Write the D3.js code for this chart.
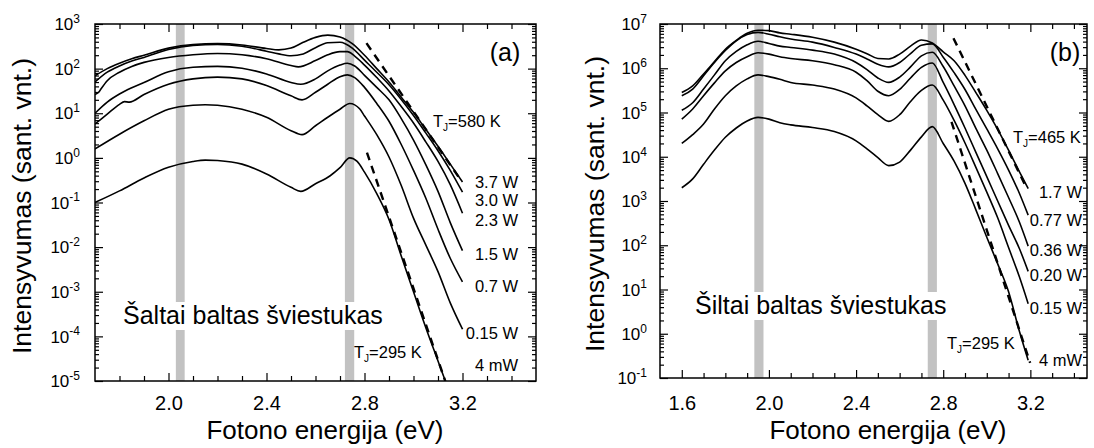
<!DOCTYPE html>
<html><head><meta charset="utf-8">
<script src="https://cdn.jsdelivr.net/npm/d3@7"></script>
<style>
body{margin:0;background:#fff;}
svg{display:block;font-family:"Liberation Sans",Arial,sans-serif;}
</style></head><body>
<svg id="chart" width="1094" height="448"></svg>
<script>
// ================= DATA (photon energy in eV, log10 of intensity in a.u.) =================
// ---- Panel (a): cold white LED ----
const a_E_37 = [1.70,1.75,1.80,1.85,1.90,2.00,2.10,2.20,2.30,2.40,2.45,2.50,2.55,2.60,2.65,2.70,2.75,2.80,2.85,2.90,2.95,3.00,3.05,3.10,3.15,3.20];
const a_L_37 = [1.84,2.00,2.12,2.22,2.30,2.46,2.54,2.56,2.53,2.45,2.42,2.46,2.59,2.70,2.75,2.71,2.56,2.30,2.00,1.70,1.36,1.02,0.64,0.26,-0.14,-0.54];
const a_E_30 = [1.70,1.75,1.80,1.85,1.90,2.00,2.10,2.20,2.30,2.40,2.45,2.50,2.55,2.60,2.65,2.70,2.75,2.80,2.85,2.90,2.95,3.00,3.05,3.10,3.15,3.20];
const a_L_30 = [1.70,1.92,2.06,2.17,2.25,2.43,2.52,2.54,2.50,2.39,2.33,2.29,2.33,2.47,2.58,2.59,2.46,2.19,1.92,1.64,1.31,0.95,0.56,0.16,-0.28,-0.77];
const a_E_23 = [1.70,1.715,1.725,1.75,1.80,1.85,1.90,2.00,2.10,2.20,2.30,2.40,2.50,2.53,2.60,2.65,2.70,2.73,2.76,2.80,2.85,2.90,2.95,3.00,3.05,3.10,3.15,3.20];
const a_L_23 = [1.42,1.47,1.55,1.73,1.92,2.05,2.14,2.25,2.31,2.34,2.31,2.22,2.07,2.04,2.18,2.31,2.38,2.38,2.28,2.08,1.80,1.50,1.15,0.78,0.36,-0.08,-0.60,-1.24];
const a_E_15 = [1.70,1.75,1.80,1.85,1.90,2.00,2.10,2.20,2.30,2.40,2.50,2.54,2.60,2.65,2.70,2.73,2.76,2.80,2.85,2.90,2.95,3.00,3.05,3.10,3.15,3.20];
const a_L_15 = [1.00,1.25,1.43,1.57,1.69,1.93,2.03,2.05,2.01,1.88,1.69,1.65,1.77,1.95,2.08,2.12,2.06,1.85,1.58,1.30,0.88,0.40,-0.15,-0.75,-1.45,-2.08];
const a_E_07 = [1.70,1.75,1.80,1.82,1.84,1.90,2.00,2.10,2.20,2.30,2.40,2.50,2.545,2.60,2.65,2.70,2.73,2.76,2.80,2.85,2.90,2.95,3.00,3.05,3.10,3.15,3.20];
const a_L_07 = [0.76,0.98,1.20,1.26,1.25,1.42,1.65,1.77,1.81,1.77,1.62,1.39,1.30,1.47,1.65,1.82,1.86,1.80,1.58,1.22,0.82,0.30,-0.28,-0.90,-1.60,-2.25,-2.78];
const a_E_015 = [1.70,1.80,1.90,2.00,2.10,2.15,2.20,2.30,2.40,2.50,2.545,2.60,2.65,2.70,2.74,2.78,2.80,2.85,2.90,2.95,3.00,3.05,3.10,3.15,3.20];
const a_L_015 = [0.20,0.53,0.83,1.09,1.18,1.19,1.18,1.09,0.91,0.61,0.52,0.72,0.91,1.09,1.22,1.10,0.94,0.52,0.02,-0.62,-1.35,-1.95,-2.55,-3.25,-3.84];
const a_E_4m = [1.70,1.80,1.90,2.00,2.10,2.15,2.20,2.30,2.40,2.50,2.54,2.60,2.66,2.70,2.74,2.77,2.80,2.85,2.90,2.95,3.00,3.05,3.10,3.15];
const a_L_4m = [-1.00,-0.74,-0.45,-0.21,-0.08,-0.05,-0.06,-0.14,-0.36,-0.66,-0.75,-0.58,-0.40,-0.22,0.00,-0.08,-0.32,-0.80,-1.38,-2.20,-3.00,-3.80,-4.55,-5.30];
const a_fitE_580 = [2.808, 3.197], a_fitL_580 = [2.57, -0.53];
const a_fitE_295 = [2.81, 3.145],  a_fitL_295 = [0.12, -5.25];
const a_bands = [[2.030, 2.066], [2.720, 2.758]];
const a_powers = ["3.7 W","3.0 W","2.3 W","1.5 W","0.7 W","0.15 W","4 mW"];
const a_xMajor = [2.0, 2.4, 2.8, 3.2];
const a_yExp = [-5,-4,-3,-2,-1,0,1,2,3];

// ---- Panel (b): warm white LED ----
const b_E = [1.60,1.65,1.70,1.75,1.80,1.85,1.90,1.95,2.00,2.05,2.10,2.20,2.30,2.40,2.45,2.50,2.55,2.60,2.65,2.70,2.75,2.80,2.85,2.90,2.95,3.00,3.05,3.10,3.15,3.19];
const b_L_17  = [5.45,5.60,5.87,6.15,6.43,6.63,6.79,6.86,6.85,6.80,6.77,6.70,6.59,6.43,6.33,6.22,6.21,6.32,6.50,6.64,6.57,6.37,6.17,5.84,5.45,5.05,4.62,4.15,3.66,3.28];
const b_L_077 = [5.38,5.53,5.83,6.13,6.40,6.62,6.76,6.81,6.77,6.71,6.66,6.59,6.47,6.32,6.21,6.09,6.03,6.13,6.33,6.52,6.55,6.25,5.90,5.52,5.07,4.63,4.18,3.70,3.17,2.68];
const b_L_036 = [5.05,5.22,5.53,5.85,6.17,6.38,6.53,6.61,6.56,6.50,6.47,6.41,6.32,6.13,5.97,5.78,5.68,5.80,6.03,6.28,6.36,6.04,5.60,5.15,4.64,4.15,3.62,3.08,2.52,1.98];
const b_L_020 = [4.85,5.08,5.38,5.67,5.94,6.13,6.26,6.35,6.32,6.26,6.22,6.17,6.08,5.91,5.72,5.48,5.38,5.52,5.78,6.02,6.12,5.68,5.18,4.65,4.10,3.55,3.00,2.45,1.92,1.41];
const b_L_015 = [4.30,4.50,4.74,5.08,5.38,5.60,5.76,5.85,5.81,5.75,5.68,5.62,5.53,5.33,5.15,4.95,4.80,4.95,5.25,5.50,5.62,5.28,4.82,4.31,3.76,3.20,2.62,1.95,1.28,0.68];
const b_L_4m  = [3.30,3.50,3.83,4.15,4.44,4.65,4.81,4.89,4.85,4.77,4.72,4.66,4.57,4.36,4.18,3.98,3.80,3.88,4.15,4.45,4.68,4.30,3.90,3.40,2.80,2.18,1.58,0.95,0.05,-0.60];
const b_fitE_465 = [2.847, 3.184], b_fitL_465 = [6.68, 3.28];
const b_fitE_295 = [2.838, 3.199], b_fitL_295 = [4.79, -0.66];
const b_bands = [[1.933, 1.975], [2.729, 2.771]];
const b_powers = ["1.7 W","0.77 W","0.36 W","0.20 W","0.15 W","4 mW"];
const b_xMajor = [1.6, 2.0, 2.4, 2.8, 3.2];
const b_yExp = [-1,0,1,2,3,4,5,6,7];

// ================= LAYOUT =================
const svg = d3.select("#chart");
const FONT = '"Liberation Sans", Arial, sans-serif';

const panels = [
  {
    id: "a", left: 95, right: 536, top: 24, bottom: 381,
    xDomain: [1.7, 3.5], yExp: a_yExp, xMajor: a_xMajor,
    series: [[a_E_37,a_L_37],[a_E_30,a_L_30],[a_E_23,a_L_23],[a_E_15,a_L_15],[a_E_07,a_L_07],[a_E_015,a_L_015],[a_E_4m,a_L_4m]],
    fits: [[a_fitE_580,a_fitL_580],[a_fitE_295,a_fitL_295]],
    bands: a_bands,
    powers: a_powers, powerX: 518, powerY: [187.5,206,225.5,260,292,339,371],
    tjHot: {text:"=580 K", x:433, y:127}, tjCold: {text:"=295 K", x:354, y:358},
    tag: {text:"(a)", x:505, y:61},
    big: {text:"Šaltai baltas šviestukas", x:123, y:324},
    yTitleX: 31, yTitleY: 206, xTitleX: 325, yLabelPad: 15, xLabelBase: 410
  },
  {
    id: "b", left: 660, right: 1087, top: 24, bottom: 378,
    xDomain: [1.5, 3.46], yExp: b_yExp, xMajor: b_xMajor,
    series: [b_L_17,b_L_077,b_L_036,b_L_020,b_L_015,b_L_4m].map(L => [b_E, L]),
    fits: [[b_fitE_465,b_fitL_465],[b_fitE_295,b_fitL_295]],
    bands: b_bands,
    powers: b_powers, powerX: 1082, powerY: [198,226,256,281,313.5,366],
    tjHot: {text:"=465 K", x:1013, y:142.5}, tjCold: {text:"=295 K", x:947, y:348.5},
    tag: {text:"(b)", x:1065, y:61},
    big: {text:"Šiltai baltas šviestukas", x:695, y:314},
    yTitleX: 604, yTitleY: 204, xTitleX: 888, yLabelPad: 13, xLabelBase: 410
  }
];

panels.forEach(drawPanel);

function drawPanel(cfg) {
  const g = svg.append("g");
  const x = d3.scaleLinear().domain(cfg.xDomain).range([cfg.left, cfg.right]);
  const yLo = Math.pow(10, cfg.yExp[0]), yHi = Math.pow(10, cfg.yExp[cfg.yExp.length-1]);
  const y = d3.scaleLog().domain([yLo, yHi]).range([cfg.bottom, cfg.top]);
  const clipId = "clip-" + cfg.id;
  svg.append("clipPath").attr("id", clipId).append("rect")
    .attr("x", cfg.left).attr("y", cfg.top)
    .attr("width", cfg.right - cfg.left).attr("height", cfg.bottom - cfg.top);

  // grey bands
  cfg.bands.forEach(b => {
    g.append("rect").attr("x", x(b[0])).attr("width", x(b[1]) - x(b[0]))
      .attr("y", cfg.top).attr("height", cfg.bottom - cfg.top).attr("fill", "#c2c2c2");
  });

  // big label with white background
  const bigG = g.append("g");
  const bigT = bigG.append("text").attr("x", cfg.big.x).attr("y", cfg.big.y)
    .attr("font-size", 25).attr("fill", "#000").text(cfg.big.text);
  const bb = bigT.node().getBBox();
  bigG.insert("rect", "text").attr("x", bb.x - 2).attr("y", bb.y + 1)
    .attr("width", bb.width + 4).attr("height", bb.height).attr("fill", "#fff");

  // curves
  const line = d3.line()
    .x(d => x(d[0])).y(d => y(Math.pow(10, d[1])))
    .curve(d3.curveMonotoneX);
  const plot = g.append("g").attr("clip-path", `url(#${clipId})`);
  cfg.series.forEach(s => {
    plot.append("path").datum(d3.zip(s[0], s[1])).attr("d", line)
      .attr("fill", "none").attr("stroke", "#000").attr("stroke-width", 1.6)
      .attr("stroke-linejoin", "round");
  });
  cfg.fits.forEach(f => {
    plot.append("path").datum(d3.zip(f[0], f[1]))
      .attr("d", d3.line().x(d => x(d[0])).y(d => y(Math.pow(10, d[1]))))
      .attr("fill", "none").attr("stroke", "#000").attr("stroke-width", 2.4)
      .attr("stroke-dasharray", "8,6");
  });

  // ticks
  const xMinor = d3.range(Math.round(cfg.xDomain[0]*10)+1, Math.round(cfg.xDomain[1]*10))
    .map(v => v/10).filter(v => !cfg.xMajor.some(m => Math.abs(m - v) < 1e-6));
  const yMajor = cfg.yExp.map(e => Math.pow(10, e));
  const yMinor = [];
  cfg.yExp.slice(0, -1).forEach(e => { for (let m = 2; m <= 9; m++) yMinor.push(m * Math.pow(10, e)); });

  const styleAxis = sel => {
    sel.select(".domain").remove();
    sel.selectAll(".tick line").attr("stroke", "#000").attr("stroke-width", 1.2);
    sel.selectAll(".tick text").attr("fill", "#000").attr("font-family", FONT);
  };
  const xfs = 20;
  const padX = cfg.xLabelBase - cfg.bottom - 0.71 * xfs;
  g.append("g").attr("transform", `translate(0,${cfg.bottom})`)
    .call(d3.axisBottom(x).tickValues(xMinor).tickSize(-5).tickFormat("")).call(styleAxis);
  g.append("g").attr("transform", `translate(0,${cfg.bottom})`)
    .call(d3.axisBottom(x).tickValues(cfg.xMajor).tickSize(-8).tickPadding(padX).tickFormat(d3.format(".1f")))
    .call(styleAxis).selectAll(".tick text").attr("font-size", xfs);
  g.append("g").attr("transform", `translate(0,${cfg.top})`)
    .call(d3.axisTop(x).tickValues(xMinor).tickSize(-5).tickFormat("")).call(styleAxis);
  g.append("g").attr("transform", `translate(0,${cfg.top})`)
    .call(d3.axisTop(x).tickValues(cfg.xMajor).tickSize(-8).tickFormat("")).call(styleAxis);

  g.append("g").attr("transform", `translate(${cfg.left},0)`)
    .call(d3.axisLeft(y).tickValues(yMinor).tickSize(-4).tickFormat("")).call(styleAxis);
  const yl = g.append("g").attr("transform", `translate(${cfg.left},0)`)
    .call(d3.axisLeft(y).tickValues(yMajor).tickSize(-8).tickPadding(cfg.yLabelPad).tickFormat(""))
    .call(styleAxis);
  yl.selectAll(".tick text").attr("font-size", 17).attr("dy", "0.33em")
    .each(function(d) {
      const t = d3.select(this);
      t.append("tspan").text("10");
      t.append("tspan").attr("dy", "-0.6em").attr("font-size", 12)
        .text(String(Math.round(Math.log10(d))));
    });
  g.append("g").attr("transform", `translate(${cfg.right},0)`)
    .call(d3.axisRight(y).tickValues(yMinor).tickSize(-4).tickFormat("")).call(styleAxis);
  g.append("g").attr("transform", `translate(${cfg.right},0)`)
    .call(d3.axisRight(y).tickValues(yMajor).tickSize(-8).tickFormat("")).call(styleAxis);

  // frame
  g.append("rect").attr("x", cfg.left).attr("y", cfg.top)
    .attr("width", cfg.right - cfg.left).attr("height", cfg.bottom - cfg.top)
    .attr("fill", "none").attr("stroke", "#000").attr("stroke-width", 1.5);

  // power labels
  cfg.powers.forEach((p, i) => {
    g.append("text").attr("x", cfg.powerX).attr("y", cfg.powerY[i])
      .attr("text-anchor", "end").attr("font-size", 16.5).text(p);
  });
  // junction temperature labels
  [cfg.tjHot, cfg.tjCold].forEach(o => {
    const t = g.append("text").attr("x", o.x).attr("y", o.y).attr("font-size", 16.5);
    t.append("tspan").text("T");
    t.append("tspan").attr("font-size", 10).attr("dy", 4).text("J");
    t.append("tspan").attr("dy", -4).text(o.text);
  });
  // panel tag
  g.append("text").attr("x", cfg.tag.x).attr("y", cfg.tag.y).attr("text-anchor", "middle")
    .attr("font-size", 25).text(cfg.tag.text);

  // axis titles
  g.append("text").attr("transform", `translate(${cfg.yTitleX},${cfg.yTitleY}) rotate(-90)`)
    .attr("text-anchor", "middle").attr("font-size", 26.5).text("Intensyvumas (sant. vnt.)");
  g.append("text").attr("x", cfg.xTitleX).attr("y", 439)
    .attr("text-anchor", "middle").attr("font-size", 26).text("Fotono energija (eV)");
}
</script></body></html>
